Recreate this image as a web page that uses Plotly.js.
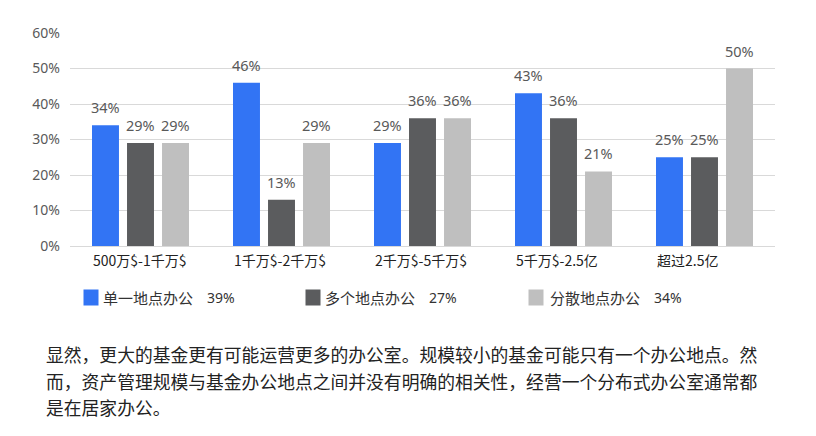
<!DOCTYPE html>
<html>
<head>
<meta charset="utf-8">
<script src="https://cdn.plot.ly/plotly-3.0.1.min.js"></script>
<style>
  html, body { margin: 0; padding: 0; background: #fff; }
  #chart { width: 816px; height: 436px; }
</style>
</head>
<body>
<div id="chart"></div>
<script>
'use strict';

// data
const categories = ['500万$-1千万$', '1千万$-2千万$', '2千万$-5千万$', '5千万$-2.5亿', '超过2.5亿'];
const seriesNames = ['单一地点办公', '多个地点办公', '分散地点办公'];
const seriesTotals = [39, 27, 34];
const singleOffice = [34, 46, 29, 43, 25];
const multiOffice = [29, 13, 36, 36, 25];
const distributedOffice = [29, 29, 36, 21, 50];
const yTickVals = [0, 10, 20, 30, 40, 50, 60];
const paragraph = [
  '显然，更大的基金更有可能运营更多的办公室。规模较小的基金可能只有一个办公地点。然',
  '而，资产管理规模与基金办公地点之间并没有明确的相关性，经营一个分布式办公室通常都',
  '是在居家办公。'
];

const colors = ['#3274F4', '#5B5C5E', '#BFBFBF'];
const seriesValues = [singleOffice, multiOffice, distributedOffice];
const sans = 'Noto Sans, Noto Sans CJK SC, sans-serif';
const cjk = 'Noto Sans CJK SC, sans-serif';

const bargap = 0.255;
const bargroupgap = 0.23;
const slot = (1 - bargap) / 3;

// plot area in px, used to place the legend and text below it
const plotLeft = 70, plotRight = 775, plotTop = 33, plotBottom = 246;
function pyToPaper(py) { return (plotBottom - py) / (plotBottom - plotTop); }
function pxToPaper(px) { return (px - plotLeft) / (plotRight - plotLeft); }

const xs = categories.map((c, i) => i);

var traces = seriesValues.map(function(vals, k) {
  return {
    type: 'bar',
    x: xs,
    y: vals,
    name: seriesNames[k],
    marker: { color: colors[k], line: { width: 0 } },
    hoverinfo: 'skip'
  };
});

var annotations = [];
// value labels above the bars
seriesValues.forEach(function(vals, k) {
  vals.forEach(function(v, i) {
    annotations.push({
      x: i + (k - 1) * slot, y: v, xref: 'x', yref: 'y',
      text: v + '%', showarrow: false,
      xanchor: 'center', yanchor: 'bottom', yshift: 6,
      font: { family: sans, size: 14.5, color: '#595959' }
    });
  });
});
// category labels, left aligned with the first bar of each group
categories.forEach(function(c, i) {
  annotations.push({
    x: i - (1 - bargap) / 2 + slot * bargroupgap / 2, y: 0, xref: 'x', yref: 'paper',
    text: c, showarrow: false,
    xanchor: 'left', yanchor: 'top', yshift: -2, xshift: -1,
    font: { family: cjk, size: 14, color: '#222' }
  });
});
// legend row: swatch, name, share
const legendY = pyToPaper(297);
const swatchX = [83, 305, 528], nameX = [101, 323, 548], shareX = [205, 427, 652];
seriesNames.forEach(function(n, k) {
  annotations.push({
    x: pxToPaper(swatchX[k]), y: legendY, xref: 'paper', yref: 'paper',
    text: ' ', showarrow: false, xanchor: 'left', yanchor: 'middle',
    width: 14, height: 15, borderpad: 0, bgcolor: colors[k]
  });
  annotations.push({
    x: pxToPaper(nameX[k]), y: legendY, xref: 'paper', yref: 'paper',
    text: n, showarrow: false, xanchor: 'left', yanchor: 'middle',
    font: { family: cjk, size: 15, color: '#333' }
  });
  annotations.push({
    x: pxToPaper(shareX[k]), y: legendY, xref: 'paper', yref: 'paper',
    text: seriesTotals[k] + '%', showarrow: false, xanchor: 'left', yanchor: 'middle',
    font: { family: sans, size: 14, color: '#333' }
  });
});
// paragraph under the chart
paragraph.forEach(function(line, j) {
  annotations.push({
    x: pxToPaper(44), y: pyToPaper(354 + j * 26.5), xref: 'paper', yref: 'paper',
    text: line, showarrow: false,
    xanchor: 'left', yanchor: 'middle',
    font: { family: cjk, size: 17.8, color: '#222' }
  });
});

var layout = {
  width: 816,
  height: 436,
  margin: { l: plotLeft, r: 816 - plotRight, t: plotTop, b: 436 - plotBottom },
  paper_bgcolor: '#fff',
  plot_bgcolor: '#fff',
  barmode: 'group',
  bargap: bargap,
  bargroupgap: bargroupgap,
  showlegend: false,
  xaxis: {
    type: 'linear',
    range: [-0.5, categories.length - 0.5],
    showticklabels: false,
    showgrid: false,
    zeroline: false,
    showline: false,
    ticks: ''
  },
  yaxis: {
    range: [0, 60],
    tickmode: 'array',
    tickvals: yTickVals,
    ticktext: yTickVals.map(v => v + '%'),
    showgrid: true,
    gridcolor: '#D9D9D9',
    gridwidth: 1,
    zeroline: true,
    zerolinecolor: '#D9D9D9',
    zerolinewidth: 1,
    showline: false,
    ticks: '',
    ticklabelstandoff: 9,
    tickfont: { family: sans, size: 14, color: '#595959' }
  },
  annotations: annotations
};

Plotly.newPlot('chart', traces, layout, { displayModeBar: false, staticPlot: true });
</script>
</body>
</html>
